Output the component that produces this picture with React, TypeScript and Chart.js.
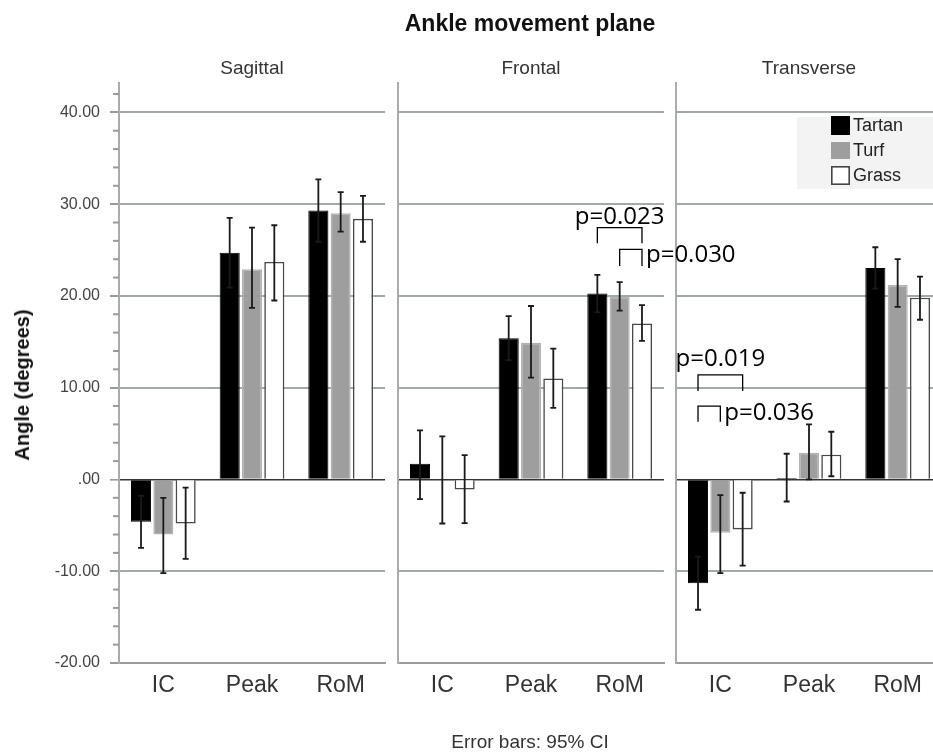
import React, { useEffect, useRef } from 'react';
import { Chart, registerables } from 'chart.js';

Chart.register(...registerables);

// ---- data ----
const categories = ['IC', 'Peak', 'RoM'];
const surfaces = ['Tartan', 'Turf', 'Grass'];
const planes = ['Sagittal', 'Frontal', 'Transverse'];

// Sagittal plane: mean angle and 95% CI bounds per surface (IC, Peak, RoM)
const sagittalTartan = [-4.6, 24.7, 29.3];
const sagittalTurf = [-6.0, 22.9, 29.0];
const sagittalGrass = [-4.8, 23.7, 28.4];
const sagittalTartanLo = [-7.45, 20.9, 25.9];
const sagittalTartanHi = [-1.8, 28.5, 32.7];
const sagittalTurfLo = [-10.2, 18.7, 27.0];
const sagittalTurfHi = [-2.0, 27.45, 31.3];
const sagittalGrassLo = [-8.65, 19.5, 25.9];
const sagittalGrassHi = [-0.9, 27.7, 30.9];

// Frontal plane
const frontalTartan = [1.7, 15.4, 20.25];
const frontalTurf = [0.0, 14.9, 19.9];
const frontalGrass = [-1.1, 11.0, 17.0];
const frontalTartanLo = [-2.15, 13.0, 18.2];
const frontalTartanHi = [5.35, 17.8, 22.3];
const frontalTurfLo = [-4.8, 11.1, 18.4];
const frontalTurfHi = [4.7, 18.9, 21.5];
const frontalGrassLo = [-4.75, 7.8, 15.1];
const frontalGrassHi = [2.65, 14.25, 19.0];

// Transverse plane
const transverseTartan = [-11.3, 0.15, 23.05];
const transverseTurf = [-5.8, 2.9, 21.2];
const transverseGrass = [-5.45, 2.7, 19.8];
const transverseTartanLo = [-14.2, -2.4, 20.8];
const transverseTartanHi = [-8.4, 2.8, 25.3];
const transverseTurfLo = [-10.2, 0.0, 18.8];
const transverseTurfHi = [-1.7, 6.0, 24.0];
const transverseGrassLo = [-9.4, 0.35, 17.4];
const transverseGrassHi = [-1.45, 5.2, 22.1];

// Significance brackets: category index, the two surfaces joined, bracket heights and label
const frontalBrackets = [
  { cat: 2, from: 0, to: 2, top: 27.44, leg: 25.74, label: 'p=0.023', side: 'above', labelY: 27.84 },
  { cat: 2, from: 1, to: 2, top: 25.08, leg: 23.26, label: 'p=0.030', side: 'right', labelY: 23.65 },
];
const transverseBrackets = [
  { cat: 0, from: 0, to: 2, top: 11.39, leg: 9.65, label: 'p=0.019', side: 'above', labelY: 12.37 },
  { cat: 0, from: 0, to: 1, top: 7.99, leg: 6.3, label: 'p=0.036', side: 'right', labelY: 6.49 },
];

const yMin = -20;
const yMax = 43.2;
const yTickValues = [40, 30, 20, 10, 0, -10, -20];
const yTickLabels = ['40.00', '30.00', '20.00', '10.00', '.00', '-10.00', '-20.00'];
const yMinorTicks = [42, 38, 36, 34, 32, 28, 26, 24, 22, 18, 16, 14, 12, 8, 6, 4, 2, -2, -4, -6, -8, -12, -14, -16, -18];

// ---- styles ----
const fills = ['#000000', '#9e9e9e', '#ffffff'];
const edges = ['#000000', '#b3b3b3', '#484848'];
const edgeWidths = [1, 1.5, 1.6];
const FONT = "'Liberation Sans', Arial, sans-serif";

type Bracket = { cat: number; from: number; to: number; top: number; leg: number; label: string; side: string; labelY: number };

function errorBarPlugin(lows: number[][], highs: number[][]) {
  return {
    id: 'errorBars',
    afterDatasetsDraw(chart: any) {
      const { ctx } = chart;
      const ys = chart.scales.y;
      ctx.save();
      ctx.strokeStyle = '#1a1a1a';
      ctx.lineWidth = 1.8;
      chart.data.datasets.forEach((_: any, di: number) => {
        const meta = chart.getDatasetMeta(di);
        meta.data.forEach((bar: any, j: number) => {
          const x = bar.x;
          const y1 = ys.getPixelForValue(lows[di][j]);
          const y2 = ys.getPixelForValue(highs[di][j]);
          ctx.beginPath();
          ctx.moveTo(x, y1);
          ctx.lineTo(x, y2);
          ctx.moveTo(x - 3, y1);
          ctx.lineTo(x + 3, y1);
          ctx.moveTo(x - 3, y2);
          ctx.lineTo(x + 3, y2);
          ctx.stroke();
        });
      });
      ctx.restore();
    },
  };
}

function bracketPlugin(brackets: Bracket[]) {
  return {
    id: 'brackets',
    afterDatasetsDraw(chart: any) {
      const { ctx } = chart;
      const ys = chart.scales.y;
      ctx.save();
      ctx.strokeStyle = '#000';
      ctx.fillStyle = '#000';
      ctx.lineWidth = 1.3;
      ctx.font = "24px 'Open Sans', sans-serif";
      brackets.forEach((b) => {
        const x1 = chart.getDatasetMeta(b.from).data[b.cat].x;
        const x2 = chart.getDatasetMeta(b.to).data[b.cat].x;
        const yt = ys.getPixelForValue(b.top);
        const yl = ys.getPixelForValue(b.leg);
        ctx.beginPath();
        ctx.moveTo(x1, yl);
        ctx.lineTo(x1, yt);
        ctx.lineTo(x2, yt);
        ctx.lineTo(x2, yl);
        ctx.stroke();
        ctx.textBaseline = 'alphabetic';
        const ty = ys.getPixelForValue(b.labelY);
        if (b.side === 'above') {
          ctx.textAlign = 'center';
          ctx.fillText(b.label, (x1 + x2) / 2, ty);
        } else {
          ctx.textAlign = 'left';
          ctx.fillText(b.label, x2 + 4, ty);
        }
      });
      ctx.restore();
    },
  };
}

const minorTickPlugin = {
  id: 'minorTicks',
  afterDraw(chart: any) {
    const { ctx, chartArea } = chart;
    const ys = chart.scales.y;
    ctx.save();
    ctx.strokeStyle = '#9a9a9a';
    ctx.lineWidth = 2;
    yMinorTicks.forEach((v) => {
      const y = ys.getPixelForValue(v);
      ctx.beginPath();
      ctx.moveTo(chartArea.left - 6, y);
      ctx.lineTo(chartArea.left, y);
      ctx.stroke();
    });
    ctx.restore();
  },
};

const legendPlugin = {
  id: 'surfaceLegend',
  afterDraw(chart: any) {
    const { ctx, chartArea } = chart;
    const bx = chartArea.left + 121;
    ctx.save();
    ctx.fillStyle = '#f3f3f3';
    ctx.fillRect(bx, 117, chartArea.right + 20 - bx, 72);
    const sx = chartArea.left + 155;
    surfaces.forEach((s, i) => {
      const sy = 116 + i * 25;
      if (i === 2) {
        ctx.fillStyle = '#ffffff';
        ctx.fillRect(sx, sy, 19, 19);
        ctx.strokeStyle = '#444';
        ctx.lineWidth = 1.6;
        ctx.strokeRect(sx + 0.8, sy + 0.8, 17.4, 17.4);
      } else {
        ctx.fillStyle = fills[i];
        ctx.fillRect(sx, i === 1 ? sy + 1 : sy, 19, i === 1 ? 17 : 19);
      }
      ctx.fillStyle = '#222';
      ctx.font = `18px ${FONT}`;
      ctx.textAlign = 'left';
      ctx.textBaseline = 'middle';
      ctx.fillText(s, sx + 22, sy + 10.5);
    });
    ctx.restore();
  },
};

type PanelProps = {
  left: number;
  width: number;
  yWidth: number;
  padRight: number;
  showY: boolean;
  means: number[][];
  lows: number[][];
  highs: number[][];
  brackets?: Bracket[];
  legend?: boolean;
};

function Panel({ left, width, yWidth, padRight, showY, means, lows, highs, brackets, legend }: PanelProps) {
  const ref = useRef<HTMLCanvasElement | null>(null);
  useEffect(() => {
    if (!ref.current) return;
    const plugins: any[] = [errorBarPlugin(lows, highs)];
    if (brackets) plugins.push(bracketPlugin(brackets));
    if (showY) plugins.push(minorTickPlugin);
    if (legend) plugins.push(legendPlugin);
    const chart = new Chart(ref.current, {
      type: 'bar',
      data: {
        labels: categories,
        datasets: surfaces.map((s, i) => ({
          label: s,
          data: means[i],
          backgroundColor: fills[i],
          borderColor: edges[i],
          borderWidth: edgeWidths[i],
          categoryPercentage: 0.755,
          barPercentage: 0.9,
        })),
      },
      options: {
        animation: false,
        responsive: false,
        maintainAspectRatio: false,
        layout: { padding: { left: 0, right: padRight, top: 83, bottom: 0 } },
        plugins: {
          legend: { display: false },
          tooltip: { enabled: false },
          title: { display: false },
        },
        scales: {
          x: {
            grid: { display: false, drawTicks: false },
            border: { display: true, color: '#9c9c9c', width: 2 },
            ticks: {
              color: '#333',
              font: { family: FONT, size: 23 },
              padding: 9,
              maxRotation: 0,
              autoSkip: false,
            },
            afterFit: (s: any) => {
              s.height = 93;
            },
          },
          y: {
            min: yMin,
            max: yMax,
            afterBuildTicks: (s: any) => {
              s.ticks = yTickValues.map((v) => ({ value: v }));
            },
            ticks: {
              display: showY,
              color: '#444',
              font: { family: FONT, size: 16 },
              padding: 10,
              autoSkip: false,
              callback: (v: any) => yTickLabels[yTickValues.indexOf(Number(v))],
            },
            grid: {
              color: (c: any) => (c.tick && c.tick.value === 0 ? '#333333' : '#a2aaa7'),
              lineWidth: (c: any) => (c.tick && c.tick.value === 0 ? 1.6 : 2),
              drawTicks: showY,
              tickLength: 9,
              tickColor: '#9a9a9a',
            },
            border: { display: true, color: '#ababab', width: 2 },
            afterFit: (s: any) => {
              s.width = yWidth;
            },
          },
        },
      },
      plugins,
    });
    return () => chart.destroy();
  }, []);
  return (
    <canvas
      ref={ref}
      width={width}
      height={756}
      style={{ position: 'absolute', left, top: 0, width, height: 756 }}
    />
  );
}

const textBase: React.CSSProperties = {
  position: 'absolute',
  whiteSpace: 'nowrap',
  transform: 'translate(-50%, -50%)',
  fontFamily: FONT,
  lineHeight: 1,
};

export default function App() {
  return (
    <div
      style={{
        position: 'absolute',
        left: 0,
        top: 0,
        width: 933,
        height: 756,
        overflow: 'hidden',
        background: '#fff',
      }}
    >
      <Panel
        left={668}
        width={290}
        yWidth={8}
        padRight={16}
        showY={false}
        means={[transverseTartan, transverseTurf, transverseGrass]}
        lows={[transverseTartanLo, transverseTurfLo, transverseGrassLo]}
        highs={[transverseTartanHi, transverseTurfHi, transverseGrassHi]}
        brackets={transverseBrackets}
        legend
      />
      <Panel
        left={390}
        width={380}
        yWidth={8}
        padRight={106}
        showY={false}
        means={[frontalTartan, frontalTurf, frontalGrass]}
        lows={[frontalTartanLo, frontalTurfLo, frontalGrassLo]}
        highs={[frontalTartanHi, frontalTurfHi, frontalGrassHi]}
        brackets={frontalBrackets}
      />
      <Panel
        left={0}
        width={395}
        yWidth={119}
        padRight={10}
        showY
        means={[sagittalTartan, sagittalTurf, sagittalGrass]}
        lows={[sagittalTartanLo, sagittalTurfLo, sagittalGrassLo]}
        highs={[sagittalTartanHi, sagittalTurfHi, sagittalGrassHi]}
      />
      <div style={{ ...textBase, left: 530, top: 23, fontSize: 23, fontWeight: 'bold', color: '#111' }}>
        Ankle movement plane
      </div>
      {planes.map((p, i) => (
        <div
          key={p}
          style={{ ...textBase, left: [252, 531, 809][i], top: 67, fontSize: 19, color: '#333' }}
        >
          {p}
        </div>
      ))}
      <div
        style={{
          ...textBase,
          left: 22,
          top: 385,
          fontSize: 20,
          fontWeight: 'bold',
          color: '#111',
          transform: 'translate(-50%, -50%) rotate(-90deg)',
        }}
      >
        Angle (degrees)
      </div>
      <div style={{ ...textBase, left: 530, top: 741, fontSize: 19, color: '#333' }}>
        Error bars: 95% CI
      </div>
    </div>
  );
}
